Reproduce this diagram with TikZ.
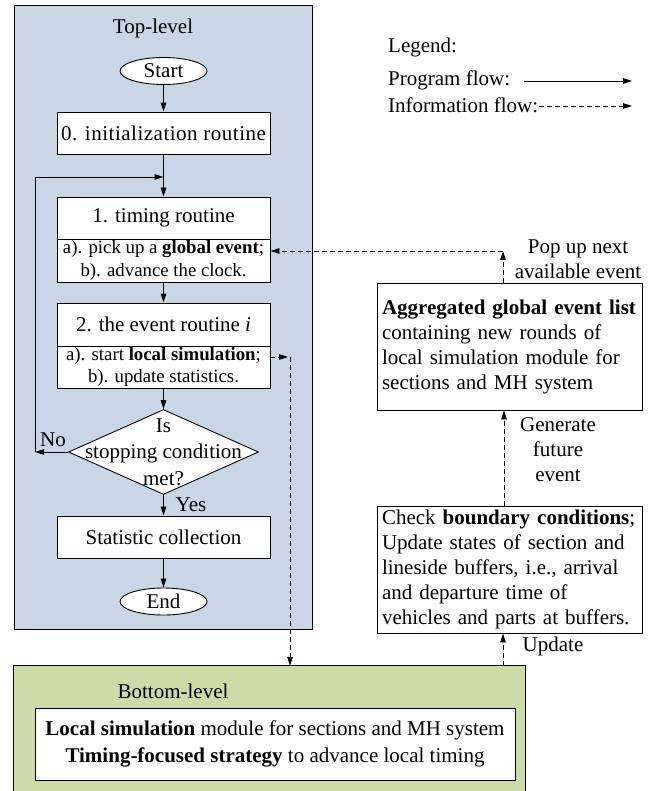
\documentclass[tikz,border=0pt]{standalone}
\usepackage{fontspec}
\setmainfont{Liberation Serif}
\usetikzlibrary{arrows.meta,shapes.geometric}
\definecolor{topblue}{RGB}{200,214,229}
\definecolor{botgreen}{RGB}{205,219,168}
\begin{document}
\begin{tikzpicture}[x=1pt,y=-1pt,
  every node/.style={font=\fontsize{21}{25}\selectfont},
  arr/.style={line width=0.9pt,-{Triangle[length=9pt,width=5.5pt]}},
  darr/.style={arr,dash pattern=on 5pt off 3pt},
  box/.style={draw,line width=0.9pt,fill=white,rectangle,inner sep=0pt,minimum width=213pt,align=center},
  oval/.style={draw,line width=0.9pt,fill=white,ellipse,inner sep=0pt,minimum width=87pt,minimum height=27pt},
  sub/.style={box,font=\fontsize{18.8}{22.5}\selectfont},
  lbox/.style={draw,line width=0.9pt,fill=white,rectangle,inner sep=0pt,minimum width=265pt,minimum height=127pt,text width=255pt,align=left},
  lbl/.style={align=center,inner sep=0pt}]
\useasboundingbox (0,0) rectangle (670,791);

% panels
\node[draw,line width=0.9pt,fill=topblue,minimum width=298pt,minimum height=624pt,inner sep=0pt] (toppanel) at (163,317) {};
\node[fill=botgreen,minimum width=511pt,minimum height=134pt,inner sep=0pt] (greenpanel) at (269.5,733) {};
\draw[line width=0.9pt] (greenpanel.south west) -- (greenpanel.north west) -- (greenpanel.north east) -- (greenpanel.south east);

\node[lbl] (toplbl) at (153,28) {Top-level};
\node[lbl] (botlbl) at (173,691) {Bottom-level};

% flowchart
\node[oval] (start) at (163.5,71) {Start};
\node[box,minimum height=42pt] (init) at (163.5,133) {\addfontfeatures{LetterSpace=2.4}0. initialization routine};
\node[box,minimum height=42pt] (tu) at (163.5,218) {1. timing routine};
\node[sub,minimum height=43pt] (tl) at (163.5,260.5) {a). pick up a \textbf{global event};\\b). advance the clock.};
\node[box,minimum height=43pt] (eu) at (163.5,324.5) {2. the event routine \textit{i}};
\node[sub,minimum height=42pt] (el) at (163.5,367) {a). start \textbf{local simulation};\\b). update statistics.};
\node[diamond,draw,line width=0.9pt,fill=white,minimum width=190pt,minimum height=85pt,inner sep=0pt] (cond) at (163.5,452) {};
\node[lbl,font=\fontsize{21}{26.5}\selectfont] (condtxt) at (163.5,452) {Is\\stopping condition\\met?};
\node[box,minimum height=42pt] (stat) at (163.5,537) {Statistic collection};
\node[oval] (end) at (163.5,601.5) {End};

\node[lbl] (nolbl) at (53,440) {No};
\node[lbl] (yeslbl) at (191,505) {Yes};

\draw[arr] (start.south) -- (init.north);
\draw[arr] (init.south) -- (tu.north);
\draw[arr] (tl.south) -- (eu.north);
\draw[arr] (el.south) -- (cond.north);
\draw[arr] (cond.south) -- (stat.north);
\draw[arr] (stat.south) -- (end.north);

\coordinate (lc1) at (35,452);
\coordinate (lc2) at (35,177);
\draw[arr] (cond.west) -- (lc1);
\draw[arr] (lc1) -- (lc2) -- (lc2 -| tu.north);

% legend
\node[anchor=west,inner sep=0pt] (lg1) at (388,47) {Legend:};
\node[anchor=west,inner sep=0pt] (lg2) at (388,80) {Program flow:};
\node[anchor=west,inner sep=0pt] (lg3) at (388,105) {Information flow:};
\coordinate (pf1) at (524,81);
\coordinate (pf2) at (632,81);
\coordinate (if1) at (539,106);
\coordinate (if2) at (632,106);
\draw[arr] (pf1) -- (pf2);
\draw[darr] (if1) -- (if2);

% right boxes
\node[lbox] (agg) at (509.5,346.5) {\mbox{\textbf{Aggregated global event list}}\\\mbox{containing new rounds of}\\\mbox{local simulation module for}\\\mbox{sections and MH system}};
\node[lbox] (check) at (509.5,569.5) {\mbox{Check \textbf{boundary conditions};}\\\mbox{Update states of section and}\\\mbox{lineside buffers, i.e., arrival}\\\mbox{and departure time of}\\\mbox{vehicles and parts at buffers.}};

\node[lbl] (poplbl) at (578,259.5) {Pop up next\\available event};
\node[lbl] (genlbl) at (558,450) {Generate\\future\\event};
\node[lbl] (updlbl) at (553,646) {Update};

% bottom inner box
\node[draw,line width=0.9pt,fill=white,minimum width=480pt,minimum height=72pt,inner sep=0pt,align=center,font=\fontsize{21}{27}\selectfont] (local) at (275,744) {\textbf{Local simulation} module for sections and MH system\\\textbf{Timing-focused strategy} to advance local timing};

% information flows
\coordinate (popc) at (503,251);
\draw[darr] (popc |- agg.north) -- (popc);
\draw[darr] (popc) -- (popc -| tl.east);

\coordinate (lsc) at (290,357);
\coordinate (lsa) at (288,357);
\draw[darr] (lsa -| el.east) -- (lsa);
\draw[darr] (lsc) -- (lsc |- greenpanel.north);

\coordinate (genc) at (504,480);
\draw[darr] (genc |- check.north) -- (genc |- agg.south);
\draw[darr] (popc |- greenpanel.north) -- (popc |- check.south);
\end{tikzpicture}
\end{document}
